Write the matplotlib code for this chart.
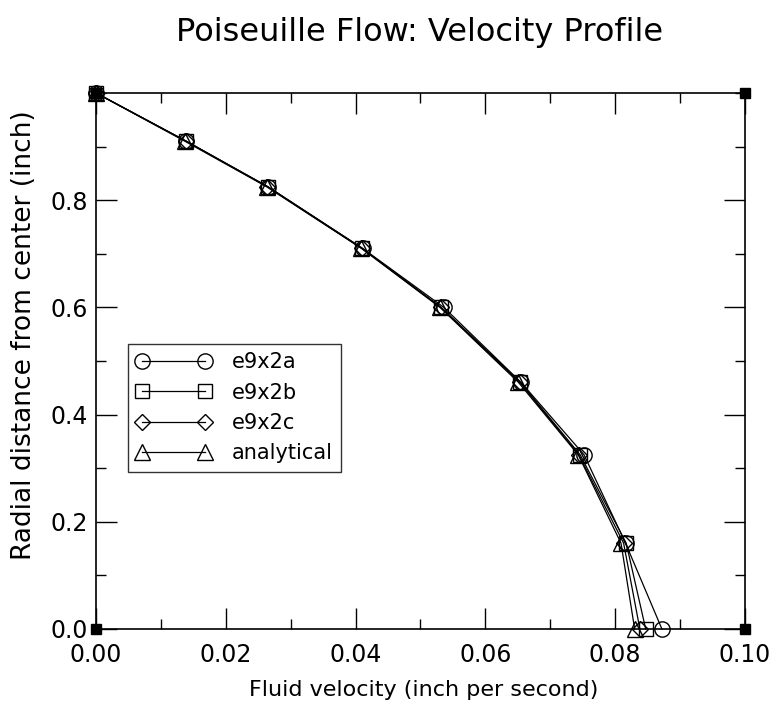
import matplotlib.pyplot as plt
from matplotlib.ticker import MultipleLocator

radius = [1.0, 0.91, 0.825, 0.71, 0.60, 0.46, 0.325, 0.16, 0.0]

vel_e9x2a = [0.0, 0.0139, 0.0265, 0.0411, 0.0536, 0.0655, 0.0752, 0.0816, 0.0872]
vel_e9x2b = [0.0, 0.0139, 0.0265, 0.0410, 0.0532, 0.0654, 0.0746, 0.0817, 0.0847]
vel_e9x2c = [0.0, 0.0139, 0.0264, 0.0410, 0.0531, 0.0653, 0.0744, 0.0813, 0.0838]
vel_analytical = [0.0, 0.0137, 0.0263, 0.0409, 0.0530, 0.0651, 0.0743, 0.0809, 0.0830]

fig = plt.figure(figsize=(7.7, 7.12), dpi=100)
ax = fig.add_axes([0.1247, 0.1166, 0.8428, 0.7528])

style = dict(color='black', lw=0.9, markerfacecolor='none', markeredgecolor='black',
             markeredgewidth=1.0, clip_on=False)
ax.plot(vel_e9x2a, radius, marker='o', ms=11, label='e9x2a', **style)
ax.plot(vel_e9x2b, radius, marker='s', ms=10, label='e9x2b', **style)
ax.plot(vel_e9x2c, radius, marker='D', ms=8, label='e9x2c', **style)
ax.plot(vel_analytical, radius, marker='^', ms=11, label='analytical', **style)

# black squares at the frame corners
ax.plot([0, 0, 0.1, 0.1], [0, 1, 0, 1], ls='none', marker='s', ms=7,
        color='black', clip_on=False, zorder=5)

ax.set_xlim(0, 0.1)
ax.set_ylim(0, 1.0)
ax.set_xticks([0, 0.02, 0.04, 0.06, 0.08, 0.10])
ax.set_xticklabels(['0.00', '0.02', '0.04', '0.06', '0.08', '0.10'])
ax.set_yticks([0, 0.2, 0.4, 0.6, 0.8])
ax.set_yticklabels(['0.0', '0.2', '0.4', '0.6', '0.8'])
ax.xaxis.set_minor_locator(MultipleLocator(0.01))
ax.yaxis.set_minor_locator(MultipleLocator(0.1))
ax.tick_params(which='both', direction='in', top=True, right=True, width=1.0, labelsize=17)
ax.tick_params(which='major', length=15)
ax.tick_params(which='minor', length=7)
ax.tick_params(axis='x', which='major', pad=10)
ax.tick_params(axis='y', which='major', pad=6)
for s in ax.spines.values():
    s.set_linewidth(1.2)

fig.text(424 / 770, 1 - 690 / 712, 'Fluid velocity (inch per second)', fontsize=16,
         ha='center', va='center')
fig.text(24 / 770, 1 - 335 / 712, 'Radial distance from center (inch)', fontsize=19,
         ha='center', va='center', rotation=90)
fig.text(0.545, 0.955, 'Poiseuille Flow: Velocity Profile', fontsize=23,
         ha='center', va='center')

leg = ax.legend(loc='upper left', bbox_to_anchor=(0.049, 0.532), numpoints=2,
                handlelength=3.6, fontsize=15, frameon=True, fancybox=False,
                edgecolor='black', borderpad=0.4, labelspacing=0.5,
                handletextpad=1.0, borderaxespad=0)
leg.get_frame().set_linewidth(1.0)

fig.savefig('out.png', dpi=100)
